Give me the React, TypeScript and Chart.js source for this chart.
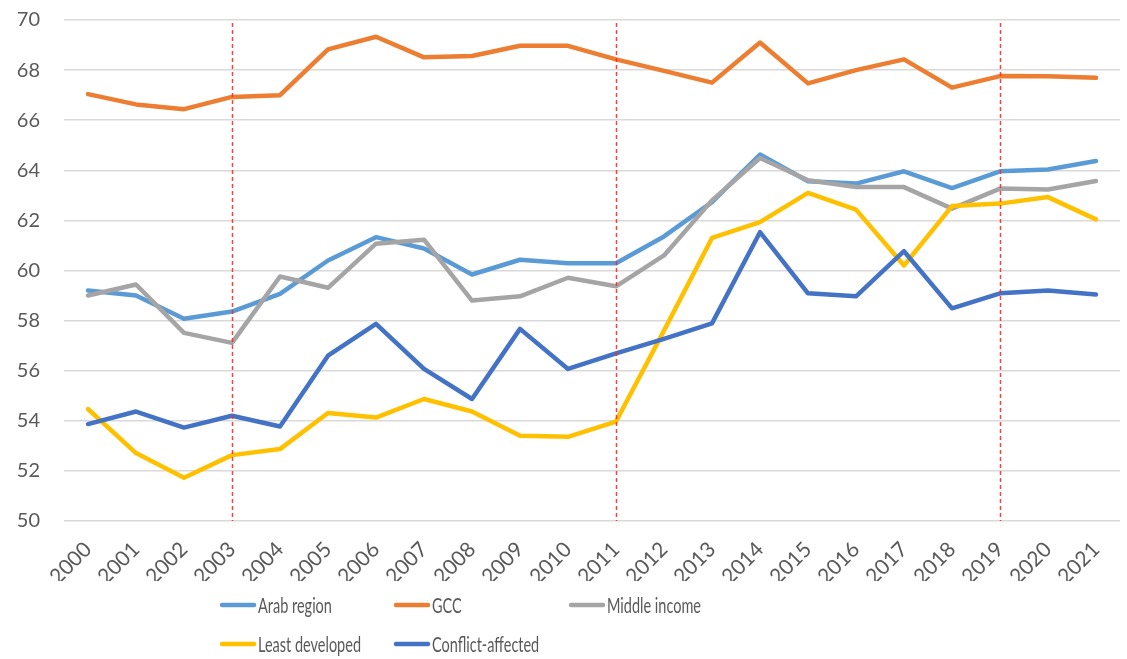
import React, { useEffect, useRef } from "react";
import { Chart, registerables } from "chart.js";

Chart.register(...registerables);

const years = ["2000","2001","2002","2003","2004","2005","2006","2007","2008","2009","2010","2011","2012","2013","2014","2015","2016","2017","2018","2019","2020","2021"];

const arabRegion = [59.2, 59.0, 58.07, 58.36, 59.07, 60.4, 61.33, 60.88, 59.84, 60.43, 60.29, 60.29, 61.36, 62.73, 64.63, 63.56, 63.47, 63.96, 63.29, 63.96, 64.03, 64.37];
const gcc = [67.04, 66.63, 66.44, 66.93, 67.0, 68.83, 69.33, 68.51, 68.56, 68.97, 68.97, 68.43, 67.97, 67.5, 69.1, 67.47, 68.0, 68.43, 67.3, 67.76, 67.75, 67.69];
const middleIncome = [59.0, 59.44, 57.51, 57.11, 59.76, 59.31, 61.07, 61.23, 58.8, 58.97, 59.71, 59.37, 60.6, 62.8, 64.49, 63.6, 63.33, 63.33, 62.47, 63.27, 63.23, 63.57];
const leastDeveloped = [54.47, 52.71, 51.73, 52.63, 52.87, 54.31, 54.13, 54.87, 54.37, 53.4, 53.36, 53.97, 57.6, 61.3, 61.93, 63.1, 62.43, 60.2, 62.57, 62.67, 62.93, 62.04];
const conflictAffected = [53.87, 54.37, 53.73, 54.2, 53.77, 56.6, 57.87, 56.07, 54.87, 57.67, 56.07, 56.69, 57.27, 57.89, 61.53, 59.09, 58.97, 60.77, 58.49, 59.09, 59.2, 59.04];

const seriesNames = ["Arab region", "GCC", "Middle income", "Least developed", "Conflict-affected"];
const seriesValues = [arabRegion, gcc, middleIncome, leastDeveloped, conflictAffected];
const seriesColors = ["#5B9BD5", "#ED7D31", "#A5A5A5", "#FFC000", "#4472C4"];

const markerYears = ["2003", "2011", "2019"];

const yMin = 50;
const yMax = 70;
const yStep = 2;

const TEXT_COLOR = "#595959";
const TICK_FONT = "Lato, 'Open Sans', sans-serif";
const LEGEND_FONT = "Lato, 'Open Sans', sans-serif";

const markerPlugin = {
  id: "markerLines",
  afterDatasetsDraw(chart: any) {
    const { ctx, chartArea, scales } = chart;
    ctx.save();
    ctx.strokeStyle = "rgba(255, 40, 40, 0.9)";
    ctx.lineWidth = 1.5;
    ctx.setLineDash([4, 3]);
    markerYears.forEach((yr) => {
      const x = Math.round(scales.x.getPixelForValue(yr)) + 0.5;
      ctx.beginPath();
      ctx.moveTo(x, chartArea.top + 3);
      ctx.lineTo(x, chartArea.bottom);
      ctx.stroke();
    });
    ctx.restore();
  },
};

const legendPlugin = {
  id: "gridLegend",
  afterDraw(chart: any) {
    const { ctx } = chart;
    const colX = [220, 394, 569];
    const rowY = [605, 644];
    ctx.save();
    ctx.font = "21px " + LEGEND_FONT;
    ctx.textBaseline = "middle";
    ctx.textAlign = "left";
    chart.data.datasets.forEach((ds: any, i: number) => {
      const col = i % 3;
      const row = Math.floor(i / 3);
      const x = colX[col];
      const y = rowY[row];
      ctx.strokeStyle = ds.borderColor;
      ctx.lineWidth = 4.5;
      ctx.lineCap = "round";
      ctx.beginPath();
      ctx.moveTo(x + 2, y);
      ctx.lineTo(x + 34, y);
      ctx.stroke();
      ctx.fillStyle = TEXT_COLOR;
      ctx.save();
      ctx.translate(x + 38, y + 1);
      ctx.scale(0.69, 1);
      ctx.fillText(ds.label, 0, 0);
      ctx.restore();
    });
    ctx.restore();
  },
};

export default function App() {
  const canvasRef = useRef<HTMLCanvasElement | null>(null);

  useEffect(() => {
    const canvas = canvasRef.current;
    if (!canvas) return;
    const chart = new Chart(canvas, {
      type: "line",
      data: {
        labels: years,
        datasets: seriesNames.map((name, i) => ({
          label: name,
          data: seriesValues[i],
          borderColor: seriesColors[i],
          backgroundColor: seriesColors[i],
          borderWidth: 4.5,
          pointRadius: 0,
          pointHoverRadius: 0,
          tension: 0,
          fill: false,
          borderCapStyle: "round",
          borderJoinStyle: "round",
          order: seriesNames.length - i,
        })),
      },
      options: {
        responsive: false,
        animation: false,
        events: [],
        layout: { padding: { top: 20, right: 7, bottom: 78, left: 0 } },
        plugins: {
          legend: { display: false },
          tooltip: { enabled: false },
          title: { display: false },
        },
        scales: {
          x: {
            type: "category",
            offset: true,
            grid: { display: false, drawTicks: false },
            border: { display: false },
            ticks: {
              autoSkip: false,
              minRotation: 45,
              maxRotation: 45,
              padding: 16,
              color: TEXT_COLOR,
              font: { family: TICK_FONT, size: 21 },
            },
            afterFit(scale: any) {
              scale.height = 60;
              scale.paddingTop = 0;
              scale.paddingBottom = 0;
              scale.paddingLeft = 0;
              scale.paddingRight = 0;
            },
          },
          y: {
            min: yMin,
            max: yMax,
            border: { display: false },
            grid: { color: "#D9D9D9", lineWidth: 1.5, drawTicks: false },
            ticks: {
              stepSize: yStep,
              padding: 24,
              color: TEXT_COLOR,
              font: { family: TICK_FONT, size: 20 },
            },
            afterFit(scale: any) {
              scale.width = 64;
              scale.paddingTop = 0;
              scale.paddingBottom = 0;
            },
          },
        },
      },
      plugins: [markerPlugin, legendPlugin],
    } as any);
    return () => chart.destroy();
  }, []);

  return (
    <div style={{ position: "absolute", left: 0, top: 0, width: 1127, height: 659, background: "#fff" }}>
      <canvas ref={canvasRef} width={1127} height={659} style={{ display: "block" }} />
    </div>
  );
}
